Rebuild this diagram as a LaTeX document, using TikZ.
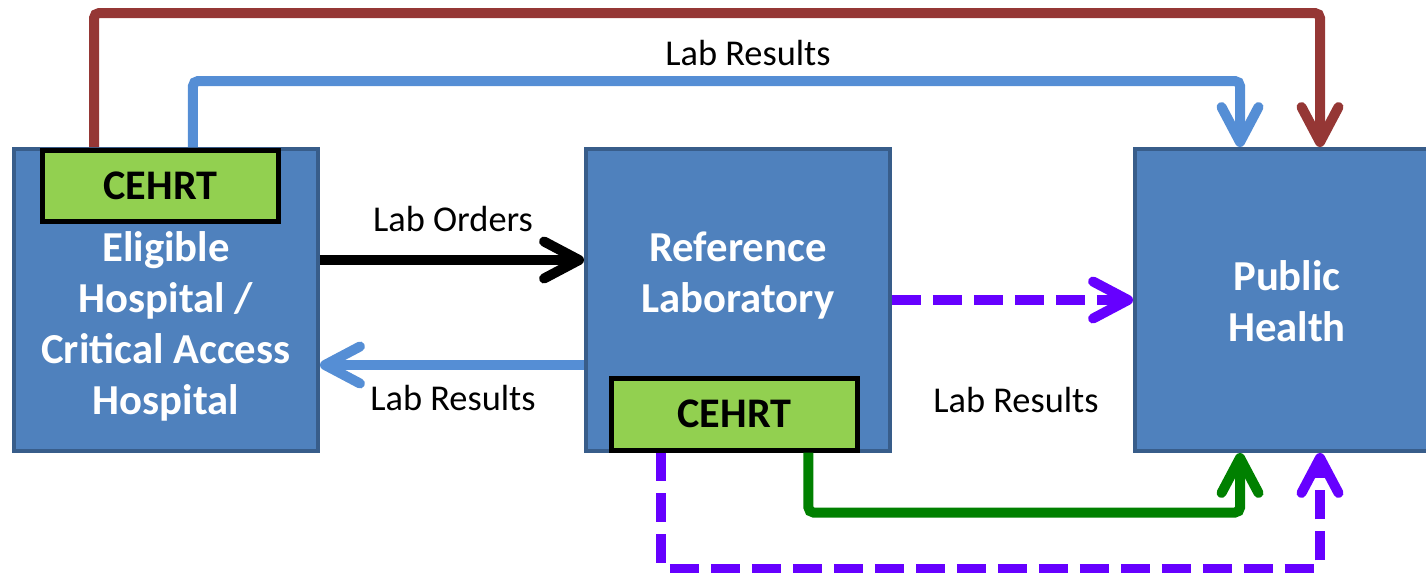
\documentclass[tikz,border=0pt]{standalone}
\usepackage{fontspec}
\setmainfont{Carlito}
\usetikzlibrary{arrows.meta, positioning, calc}

\definecolor{boxblue}{HTML}{4F81BD}
\definecolor{boxedge}{HTML}{385D8A}
\definecolor{cehrtgreen}{HTML}{92D050}
\definecolor{resultblue}{HTML}{558ED5}
\definecolor{directred}{HTML}{953735}
\definecolor{querypurple}{HTML}{6600FF}
\definecolor{submitgreen}{HTML}{008000}

\begin{document}
\begin{tikzpicture}[
    x=0.02cm, y=-0.02cm,
    party/.style={rectangle, draw=boxedge, fill=boxblue, line width=0.08cm, minimum width=6.08cm, minimum height=6.04cm},
    partytext/.style={align=center, text=white, font=\fontsize{24.3}{29}\selectfont\bfseries},
    cehrt/.style={rectangle, draw=black, fill=cehrtgreen, line width=0.1cm, minimum height=1.44cm, font=\fontsize{24}{28}\selectfont\bfseries},
    flow/.style={line width=0.2cm, rounded corners=0.1cm, -{Straight Barb[length=0.7cm, width=0.74cm, round]}},
    dashflow/.style={flow, color=querypurple, dash pattern=on 0.58cm off 0.24cm},
    lbl/.style={font=\fontsize{20.7}{24}\selectfont}
]
\useasboundingbox (0,0) rectangle (1426,572);
\clip (0,0) rectangle (1426,572);

% Nodes
\node [party] (ehosp) at (166,300) {};
\node [party] (reflab) at (738,300) {};
\node [party] (pubh) at (1287,300) {};
\node [cehrt, minimum width=4.74cm] (eh-cehrt) at (160.5,186) {CEHRT};
\node [cehrt, minimum width=4.94cm] (rl-cehrt) at (734.5,414) {CEHRT};
\node [partytext] (ehosp-text) at (166,326.5) {Eligible\\Hospital /\\Critical Access\\Hospital};
\node [partytext] (reflab-text) at (738,275.5) {Reference\\Laboratory};
\node [partytext] (pubh-text) at (1287,301) {Public\\Health};

% Arrows
\draw[flow, directred] ([xshift=1.64cm]ehosp.north west) -- ++(0,-134) -| ([xshift=3.74cm]pubh.north west);
\draw[flow, resultblue] ([xshift=3.62cm]ehosp.north west) -- ++(0,-66) -| ([xshift=2.14cm]pubh.north west);
\draw[flow, black] ([yshift=0.8cm]ehosp.east) -- ([yshift=0.8cm]reflab.west);
\draw[flow, resultblue] ([yshift=-1.3cm]reflab.west) -- ([yshift=-1.3cm]ehosp.east);
\draw[dashflow] (reflab) -- (pubh);
\draw[flow, submitgreen] ([xshift=-1.04cm]rl-cehrt.south east) -- ++(0,60) -| ([xshift=2.14cm]pubh.south west);
\draw[dashflow] ([xshift=1.04cm]rl-cehrt.south west) -- ++(0,116) -| ([xshift=3.74cm]pubh.south west);

% Labels
\node [lbl] (lbl-top) at (748,53) {Lab Results};
\node [lbl] (lbl-orders) at (453,219) {Lab Orders};
\node [lbl] (lbl-back) at (453,398) {Lab Results};
\node [lbl] (lbl-pub) at (1016,400) {Lab Results};
\end{tikzpicture}
\end{document}
